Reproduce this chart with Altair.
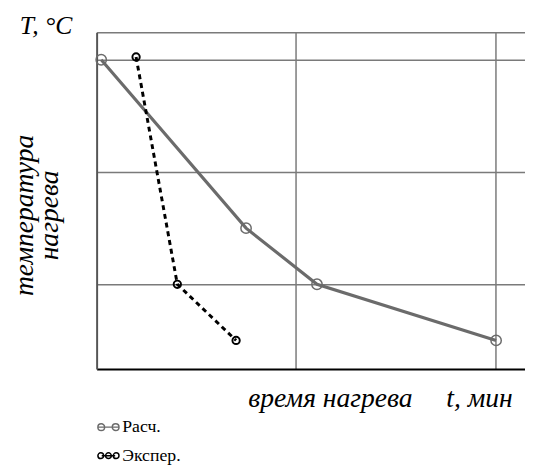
import altair as alt
import pandas as pd

# ---- data ----
series_names = ["Расч.", "Экспер."]
calc_t = [0.23, 7.5, 11.06, 20.05]
calc_T = [600, 300, 200, 100]
exp_t = [1.98, 4.05, 7.0]
exp_T = [605, 200, 100]
x_grid = [10, 20]
y_grid = [200, 400, 600, 649]
y_title = ["температура", "нагрева"]
x_title = ["время нагрева", "t, мин"]
top_title = "T, °C"

calc = pd.DataFrame({"t": calc_t, "T": calc_T, "s": series_names[0]})
exp = pd.DataFrame({"t": exp_t, "T": exp_T, "s": series_names[1]})

FONT = "Liberation Serif"
GRAY = "#6b6b6b"

xs = alt.Scale(domain=[0, 21.5], nice=False, zero=False)
ys = alt.Scale(domain=[49, 649], nice=False, zero=False)

x_enc = alt.X("t:Q", scale=xs, axis=alt.Axis(values=x_grid, labels=False, ticks=False, title=None,
                                               grid=True, gridColor="#7a7a7a", gridWidth=1.5,
                                               domainColor="#000000", domainWidth=2))
y_enc = alt.Y("T:Q", scale=ys, axis=alt.Axis(values=y_grid, labels=False, ticks=False, title=None,
                                               grid=True, gridColor="#7a7a7a", gridWidth=1.5,
                                               domainColor="#555555", domainWidth=2))

calc_line = alt.Chart(calc).mark_line(color=GRAY, strokeWidth=3.2).encode(x=x_enc, y=y_enc)
calc_pts = alt.Chart(calc).mark_point(shape="circle", filled=False, color=GRAY, size=110,
                                      strokeWidth=1.5, opacity=1).encode(x="t:Q", y="T:Q")
exp_line = alt.Chart(exp).mark_line(color="black", strokeWidth=3, strokeDash=[5, 4]).encode(x="t:Q", y="T:Q")
exp_pts = alt.Chart(exp).mark_point(shape="circle", filled=False, color="black", size=55,
                                    strokeWidth=2, opacity=1).encode(x="t:Q", y="T:Q")


def label(text, x, y, size, italic=True, angle=0, align="left", baseline="middle"):
    return alt.Chart(pd.DataFrame({"lab": [text]})).mark_text(
        font=FONT, fontSize=size, fontStyle="italic" if italic else "normal",
        angle=angle, align=align, baseline=baseline, color="black"
    ).encode(x=alt.value(x), y=alt.value(y), text="lab:N")


t_title = label(top_title, -78, -6, 26)
y1 = label(y_title[0], -73, 186, 28, angle=270, align="center")
y2 = label(y_title[1], -47, 186, 28, angle=270, align="center")
x1 = label(x_title[0], 154, 381, 28, baseline="alphabetic")
x2 = label(x_title[1], 355, 381, 28, baseline="alphabetic")

calc_sym = ("M-1.1,0 L1.1,0 "
            "M-0.4,0 A0.35,0.35 0 1,1 -1.1,0 A0.35,0.35 0 1,1 -0.4,0 "
            "M1.1,0 A0.35,0.35 0 1,1 0.4,0 A0.35,0.35 0 1,1 1.1,0")
exp_sym = ("M-0.7,0 L0.7,0 "
           "M-0.5,0 A0.3,0.3 0 1,1 -1.1,0 A0.3,0.3 0 1,1 -0.5,0 "
           "M0.3,0 A0.3,0.3 0 1,1 -0.3,0 A0.3,0.3 0 1,1 0.3,0 "
           "M1.1,0 A0.3,0.3 0 1,1 0.5,0 A0.3,0.3 0 1,1 1.1,0")

sym1 = alt.Chart(pd.DataFrame({"s": [series_names[0]]})).mark_point(
    shape=calc_sym, filled=False, color=GRAY, strokeWidth=1.5, size=380, opacity=1
).encode(x=alt.value(12), y=alt.value(401))
sym2 = alt.Chart(pd.DataFrame({"s": [series_names[1]]})).mark_point(
    shape=exp_sym, filled=False, color="black", strokeWidth=1.5, size=380, opacity=1
).encode(x=alt.value(12), y=alt.value(430))
leg1 = label(series_names[0], 26, 401, 18, italic=False)
leg2 = label(series_names[1], 26, 430, 18, italic=False)

chart = alt.layer(
    calc_line, exp_line, calc_pts, exp_pts,
    t_title, y1, y2, x1, x2, sym1, sym2, leg1, leg2
).properties(
    width=435, height=342,
    autosize=alt.AutoSizeParams(type="none"),
    padding={"left": 90, "top": 21, "right": 0, "bottom": 105},
).configure_view(stroke=None)

chart.save("out.html", embed_options={"renderer": "svg", "actions": False})
